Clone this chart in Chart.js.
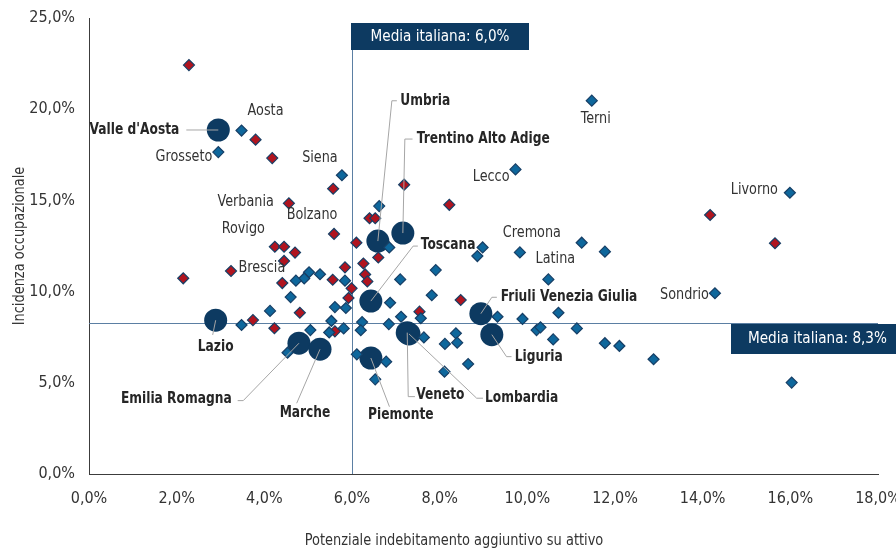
<!DOCTYPE html>
<html>
<head>
<meta charset="utf-8">
<script src="https://cdn.jsdelivr.net/npm/chart.js@4.4.1/dist/chart.umd.min.js"></script>
<style>
  html, body { margin: 0; padding: 0; background: #ffffff; }
  #wrap { width: 896px; height: 552px; }
</style>
</head>
<body>
<div id="wrap"><canvas id="c" width="896" height="552"></canvas></div>
<script>
// ---- data ---------------------------------------------------------------
const xTicks = [0, 2, 4, 6, 8, 10, 12, 14, 16, 18];
const yTicks = [0, 5, 10, 15, 20, 25];
const xTitle = 'Potenziale indebitamento aggiuntivo su attivo';
const yTitle = 'Incidenza occupazionale';

const mediaX = 6.0;   // Media italiana (asse x)
const mediaY = 8.3;   // Media italiana (asse y)

// Regioni (cerchi)
const regionNames = ["Valle d'Aosta", 'Umbria', 'Trentino Alto Adige', 'Toscana', 'Lazio',
  'Emilia Romagna', 'Marche', 'Piemonte', 'Veneto', 'Lombardia', 'Friuli Venezia Giulia', 'Liguria'];
const regionX = [2.95, 6.59, 7.16, 6.43, 2.89, 4.79, 5.27, 6.43, 7.26, 7.30, 8.94, 9.19];
const regionY = [18.86, 12.77, 13.21, 9.48, 8.43, 7.17, 6.84, 6.36, 7.75, 7.68, 8.79, 7.64];

// Province (rombi blu)
const blueX = [3.48, 2.95, 5.77, 11.47, 9.73, 6.62, 6.85, 8.98, 8.86, 9.83,
  11.24, 11.77, 15.99, 14.28, 10.71, 11.13, 11.77, 12.10, 12.88, 16.03,
  7.91, 7.10, 10.48, 6.87, 5.61, 5.86, 7.82, 7.57, 7.12, 6.23,
  6.84, 5.53, 5.81, 6.20, 7.64, 8.37, 8.40, 8.12, 9.32, 9.89,
  10.21, 10.30, 10.59, 6.11, 6.78, 6.53, 8.65, 8.11, 5.02, 5.27,
  4.91, 4.72, 5.84, 4.60, 4.13, 3.48, 5.05, 5.48, 4.53];
const blueY = [18.83, 17.65, 16.38, 20.47, 16.70, 14.69, 12.42, 12.42, 11.95, 12.15,
  12.68, 12.19, 15.42, 9.91, 8.84, 7.98, 7.17, 7.02, 6.29, 5.01,
  11.18, 10.67, 10.67, 9.39, 9.15, 9.10, 9.80, 8.54, 8.62, 8.33,
  8.22, 8.39, 7.98, 7.88, 7.49, 7.71, 7.20, 7.13, 8.62, 8.50,
  7.89, 8.04, 7.38, 6.56, 6.16, 5.19, 6.03, 5.61, 11.06, 10.95,
  10.72, 10.60, 10.60, 9.70, 8.94, 8.17, 7.89, 7.76, 6.65];
const blueNames = ['Aosta', 'Grosseto', 'Siena', 'Terni', 'Lecco', '', '', '', '', 'Cremona',
  '', '', 'Livorno', 'Sondrio', '', '', '', '', '', '',
  '', '', 'Latina'];

// Province (rombi rossi)
const redX = [2.28, 3.80, 4.18, 5.57, 4.56, 7.19, 8.22, 6.40, 6.53, 6.10,
  6.60, 14.17, 15.65, 5.59, 6.26, 5.84, 6.30, 6.35, 5.56, 5.99,
  5.92, 8.48, 7.54, 5.61, 4.24, 4.45, 4.70, 4.45, 3.24, 2.15,
  4.41, 4.81, 3.74, 4.23];
const redY = [22.42, 18.33, 17.32, 15.64, 14.84, 15.86, 14.76, 14.02, 14.02, 12.68,
  11.87, 14.20, 12.65, 13.16, 11.54, 11.33, 10.94, 10.56, 10.65, 10.18,
  9.65, 9.54, 8.90, 7.82, 12.46, 12.46, 12.14, 11.68, 11.13, 10.73,
  10.47, 8.84, 8.44, 7.99];
const redNames = ['', '', '', '', 'Verbania', '', '', '', '', '',
  '', '', '', 'Bolzano', '', '', '', '', '', '',
  '', '', '', '', 'Rovigo', '', '', '', 'Brescia'];

// ---- styling ------------------------------------------------------------
const FONT = '"DejaVu Sans Condensed", "Liberation Sans", sans-serif';
const TEXT = '#333333';
const NAVY = '#0d3a61';
const LINE = '#5b7fa3';
const LEADER = '#a6a6a6';

const pct = v => v.toFixed(1).replace('.', ',') + '%';
const toPoints = (xs, ys) => xs.map((x, i) => ({ x, y: ys[i] }));

// draws text narrowed horizontally by factor sx
function narrowText(ctx, text, x, y, align, sx) {
  const w = ctx.measureText(text).width * sx;
  const left = align === 'left' ? x : align === 'right' ? x - w : x - w / 2;
  ctx.save();
  ctx.translate(left, y);
  ctx.scale(sx, 1);
  ctx.textAlign = 'left';
  ctx.fillText(text, 0, 0);
  ctx.restore();
}

// text placement for province names: [dx, dy, align] in pixels from the marker
const provinceLabelOffsets = {
  'Aosta': [24, -20, 'center'], 'Grosseto': [-6, 5, 'right'], 'Siena': [-22, -17, 'center'],
  'Terni': [4, 18, 'center'], 'Lecco': [-6, 7, 'right'], 'Cremona': [12, -20, 'center'],
  'Latina': [7, -21, 'center'], 'Livorno': [-12, -3, 'right'], 'Sondrio': [-6, 2, 'right'],
  'Verbania': [-15, -1, 'right'], 'Bolzano': [-22, -19, 'center'], 'Rovigo': [-10, -18, 'right'],
  'Brescia': [7.5, -3, 'left']
};

// leader lines for region names: path points and text anchor, pixels from the circle centre
const regionLabelLayout = {
  "Valle d'Aosta": { path: [[-32, 0]], text: [-39, 0, 'right'] },
  'Umbria': { path: [[14, -140.3], [19, -140.3]], text: [22.5, -140.3, 'left'] },
  'Trentino Alto Adige': { path: [[2, -94], [9.7, -94]], text: [14, -94, 'left'] },
  'Toscana': { path: [[42.3, -55], [47, -55]], text: [50, -56, 'left'] },
  'Lazio': { path: [[-3, 14.7]], text: [0, 26.4, 'center'] },
  'Emilia Romagna': { path: [[-55.7, 57.4], [-61.3, 57.4]], text: [-67.3, 55.4, 'right'] },
  'Marche': { path: [[-23.3, 54]], text: [-15, 63.7, 'center'] },
  'Piemonte': { path: [[18.6, 48.7]], text: [30, 57, 'center'] },
  'Veneto': { path: [[1, 64], [7.7, 64]], text: [9, 62.3, 'left'] },
  'Lombardia': { path: [[67.7, 64.3], [74, 64.3]], text: [76, 64.3, 'left'] },
  'Friuli Venezia Giulia': { path: [[11, -16.4], [16, -16.4]], text: [20, -16.7, 'left'] },
  'Liguria': { path: [[14.7, 22], [19.7, 22]], text: [23, 22, 'left'] }
};

const overlay = {
  id: 'overlay',
  beforeDatasetsDraw(chart) {
    const { ctx, chartArea: a, scales: { x, y } } = chart;
    const mx = Math.round(x.getPixelForValue(mediaX)) + 0.5;
    const my = Math.round(y.getPixelForValue(mediaY)) + 0.5;
    ctx.save();
    ctx.strokeStyle = LINE;
    ctx.lineWidth = 1;
    ctx.beginPath();
    ctx.moveTo(mx, a.top + 5);
    ctx.lineTo(mx, a.bottom);
    ctx.moveTo(a.left, my);
    ctx.lineTo(a.right, my);
    ctx.stroke();
    ctx.restore();
  },
  afterDatasetsDraw(chart) {
    const { ctx, chartArea: a, scales: { x, y } } = chart;
    ctx.save();
    ctx.textBaseline = 'middle';

    // leader lines + region names
    const regionMeta = chart.getDatasetMeta(2).data;
    ctx.strokeStyle = LEADER;
    ctx.lineWidth = 1;
    regionNames.forEach((name, i) => {
      const lay = regionLabelLayout[name];
      const p = regionMeta[i];
      ctx.beginPath();
      ctx.moveTo(p.x, p.y);
      lay.path.forEach(([dx, dy]) => ctx.lineTo(p.x + dx, p.y + dy));
      ctx.stroke();
    });
    ctx.fillStyle = '#262626';
    ctx.font = 'bold 16px ' + FONT;
    regionNames.forEach((name, i) => {
      const lay = regionLabelLayout[name];
      const p = regionMeta[i];
      narrowText(ctx, name, p.x + lay.text[0], p.y + lay.text[1], lay.text[2], 0.85);
    });

    // province names
    ctx.fillStyle = TEXT;
    ctx.font = '16px ' + FONT;
    const drawNames = (names, meta) => {
      names.forEach((name, i) => {
        if (!name) return;
        const [dx, dy, al] = provinceLabelOffsets[name];
        narrowText(ctx, name, meta[i].x + dx, meta[i].y + dy, al, 0.89);
      });
    };
    drawNames(blueNames, chart.getDatasetMeta(0).data);
    drawNames(redNames, chart.getDatasetMeta(1).data);

    // "Media italiana" boxes
    const mx = Math.round(x.getPixelForValue(mediaX));
    const my = Math.round(y.getPixelForValue(mediaY));
    ctx.fillStyle = NAVY;
    ctx.fillRect(mx - 1, a.top + 5, 178, 27);
    ctx.fillStyle = '#ffffff';
    narrowText(ctx, 'Media italiana: ' + pct(mediaX), mx + 88, a.top + 19, 'center', 0.945);

    ctx.fillStyle = NAVY;
    ctx.fillRect(a.right - 147, my + 1, chart.width - (a.right - 147), 30);
    ctx.fillStyle = '#ffffff';
    narrowText(ctx, 'Media italiana: ' + pct(mediaY), a.right - 130, my + 16, 'left', 0.945);

    // axis titles
    ctx.fillStyle = TEXT;
    narrowText(ctx, xTitle, 454, 541, 'center', 0.9);
    ctx.translate(20, (a.top + a.bottom) / 2);
    ctx.rotate(-Math.PI / 2);
    narrowText(ctx, yTitle, 0, 0, 'center', 0.9);
    ctx.restore();
  }
};

const diamond = (color) => ({
  pointStyle: 'rectRot',
  pointRadius: 5.5,
  pointHoverRadius: 5.5,
  backgroundColor: color,
  borderColor: '#173f66',
  borderWidth: 1.2
});

new Chart(document.getElementById('c'), {
  type: 'scatter',
  data: {
    datasets: [
      Object.assign({ label: 'Province', data: toPoints(blueX, blueY) }, diamond('#0e679c')),
      Object.assign({ label: 'Province', data: toPoints(redX, redY) }, diamond('#b0141f')),
      {
        label: 'Regioni',
        data: toPoints(regionX, regionY),
        pointStyle: 'circle',
        pointRadius: 11.5,
        pointHoverRadius: 11.5,
        backgroundColor: NAVY,
        borderColor: NAVY,
        borderWidth: 0
      }
    ]
  },
  options: {
    responsive: false,
    animation: false,
    events: [],
    layout: { padding: { top: 18, right: 18, left: 0, bottom: 0 } },
    plugins: { legend: { display: false }, tooltip: { enabled: false } },
    scales: {
      x: {
        type: 'linear',
        min: xTicks[0],
        max: xTicks[xTicks.length - 1],
        afterBuildTicks: s => { s.ticks = xTicks.map(v => ({ value: v })); },
        afterFit: s => { s.height = 78; s.paddingLeft = 0; s.paddingRight = 0; },
        grid: { display: false },
        border: { display: true, color: '#3c3c3c', width: 1 },
        ticks: { color: TEXT, font: { family: FONT, size: 16 }, padding: 7, callback: v => pct(v), maxRotation: 0 }
      },
      y: {
        type: 'linear',
        min: yTicks[0],
        max: yTicks[yTicks.length - 1],
        afterBuildTicks: s => { s.ticks = yTicks.map(v => ({ value: v })); },
        afterFit: s => { s.width = 89; },
        grid: { display: false },
        border: { display: true, color: '#3c3c3c', width: 1 },
        ticks: { color: TEXT, font: { family: FONT, size: 16 }, padding: 6, callback: v => pct(v) }
      }
    }
  },
  plugins: [overlay]
});
</script>
</body>
</html>
